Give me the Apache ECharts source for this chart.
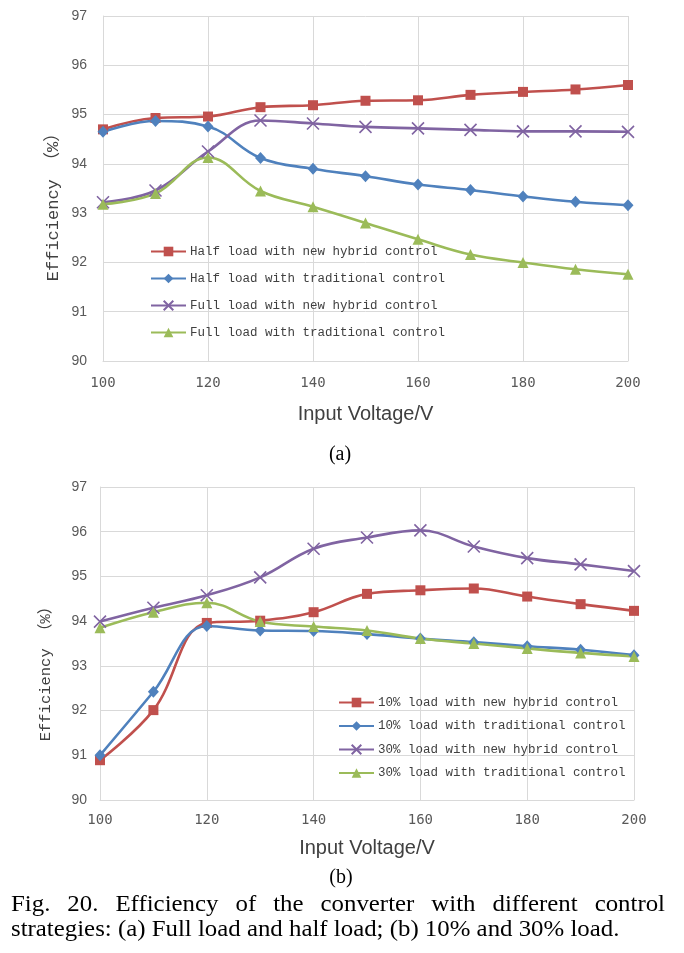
<!DOCTYPE html>
<html>
<head>
<meta charset="utf-8">
<script src="https://cdn.jsdelivr.net/npm/echarts@6/dist/echarts.min.js"></script>
<style>
html,body{margin:0;padding:0;background:#fff;}
#chart{width:684px;height:953px;}
</style>
</head>
<body>
<div id="chart"></div>
<script>
// ---- Data ----
const voltage = [100, 110, 120, 130, 140, 150, 160, 170, 180, 190, 200];

// (a) Full load and half load
const halfNew   = [94.70, 94.93, 94.96, 95.15, 95.19, 95.28, 95.29, 95.40, 95.46, 95.51, 95.60];
const halfTrad  = [94.65, 94.87, 94.76, 94.12, 93.90, 93.75, 93.58, 93.47, 93.34, 93.23, 93.16];
const fullNew   = [93.22, 93.46, 94.25, 94.88, 94.82, 94.75, 94.72, 94.69, 94.66, 94.66, 94.65];
const fullTrad  = [93.18, 93.40, 94.13, 93.45, 93.13, 92.80, 92.47, 92.16, 92.00, 91.86, 91.76];

// (b) 10% and 30% load
const p10New  = [90.89, 92.01, 93.96, 94.01, 94.20, 94.61, 94.69, 94.73, 94.55, 94.38, 94.23];
const p10Trad = [91.00, 92.42, 93.89, 93.79, 93.78, 93.71, 93.61, 93.53, 93.44, 93.36, 93.24];
const p30New  = [93.99, 94.30, 94.58, 94.98, 95.62, 95.87, 96.03, 95.67, 95.41, 95.27, 95.12];
const p30Trad = [93.85, 94.20, 94.41, 93.99, 93.88, 93.79, 93.61, 93.50, 93.39, 93.29, 93.21];

const namesA = ['Half load with new hybrid control', 'Half load with traditional control',
                'Full load with new hybrid control', 'Full load with traditional control'];
const namesB = ['10% load with new hybrid control', '10% load with traditional control',
                '30% load with new hybrid control', '30% load with traditional control'];
const xTicks = [100, 120, 140, 160, 180, 200];
const yTicks = [90, 91, 92, 93, 94, 95, 96, 97];
const xTitle = 'Input Voltage/V';
const yTitle = 'Efficiency （%）';
const captionLine1 = ['Fig.', '20.', 'Efficiency', 'of', 'the', 'converter', 'with', 'different', 'control'];
const captionLine2 = 'strategies: (a) Full load and half load; (b) 10% and 30% load.';

// ---- Styles ----
const RED = '#C0504D', BLUE = '#4F81BD', PURPLE = '#8064A2', GREEN = '#9BBB59';
const GRID = '#D9D9D9';
const XPATH = 'path://M0,0L10,10M10,0L0,10';
const styles = [
  {color: RED, symbol: 'rect', size: 10},
  {color: BLUE, symbol: 'diamond', size: [11, 12]},
  {color: PURPLE, symbol: XPATH, size: 12},
  {color: GREEN, symbol: 'triangle', size: 11}
];

function mkSeries(name, arr, st, idx) {
  return {
    name: name, type: 'line', xAxisIndex: idx, yAxisIndex: idx,
    data: voltage.map((v, i) => [v, arr[i]]),
    smooth: 0.4,
    symbol: st.symbol, symbolSize: st.size, showSymbol: true,
    lineStyle: {color: st.color, width: 2.6},
    itemStyle: {color: st.color, borderColor: st.color, borderWidth: st.symbol === XPATH ? 1.6 : 0},
    emphasis: {disabled: true},
    animation: false
  };
}

function mkX(idx, gap, margin) {
  return {
    type: 'value', gridIndex: idx, min: xTicks[0], max: xTicks[xTicks.length - 1],
    interval: xTicks[1] - xTicks[0],
    name: xTitle, nameLocation: 'middle', nameGap: gap,
    nameTextStyle: {fontFamily: 'Liberation Sans', fontSize: 20, color: '#404040'},
    axisLine: {show: true, lineStyle: {color: GRID, width: 1}},
    axisTick: {show: false},
    axisLabel: {margin: margin, fontFamily: 'DejaVu Sans Mono', fontSize: 14, color: '#595959'},
    splitLine: {show: true, lineStyle: {color: GRID, width: 1}}
  };
}
function mkY(idx, margin) {
  return {
    type: 'value', gridIndex: idx, min: yTicks[0], max: yTicks[yTicks.length - 1], interval: 1,
    axisLine: {show: true, lineStyle: {color: GRID, width: 1}},
    axisTick: {show: false},
    axisLabel: {margin: margin, fontFamily: 'Liberation Sans', fontSize: 14, color: '#595959'},
    splitLine: {show: true, lineStyle: {color: GRID, width: 1}}
  };
}
function mkLegend(names, left, top, gap) {
  return {
    data: names, orient: 'vertical', left: left, top: top,
    itemWidth: 35, itemHeight: 12, itemGap: gap, selectedMode: false,
    textStyle: {fontFamily: 'Liberation Mono', fontSize: 12.5, color: '#404040', lineHeight: 12, padding: [0, 0, 0, -1]}
  };
}

const serif = 'Liberation Serif';
const capSize = 23, capScale = 1.08;
const graphics = [
  {type: 'text', x: 53, y: 203, rotation: Math.PI / 2,
   style: {text: yTitle, fontFamily: 'Liberation Mono, Noto Sans CJK SC', fontSize: 17, fill: '#404040', align: 'center', verticalAlign: 'middle'}},
  {type: 'text', x: 46, y: 670, rotation: Math.PI / 2,
   style: {text: yTitle, fontFamily: 'Liberation Mono, Noto Sans CJK SC', fontSize: 15.5, fill: '#404040', align: 'center', verticalAlign: 'middle'}},
  {type: 'text', x: 340, y: 455, style: {text: '(a)', fontFamily: serif, fontSize: 20, fill: '#000', align: 'center', verticalAlign: 'middle'}},
  {type: 'text', x: 341, y: 878, style: {text: '(b)', fontFamily: serif, fontSize: 20, fill: '#000', align: 'center', verticalAlign: 'middle'}},
  {type: 'text', x: 11, y: 930, scaleX: capScale, style: {text: captionLine2, fontFamily: serif, fontSize: capSize, fill: '#000', align: 'left', verticalAlign: 'middle'}}
];
// justify first caption line between x=11 and x=665
const ctx = document.createElement('canvas').getContext('2d');
ctx.font = capSize + 'px "' + serif + '"';
const widths = captionLine1.map(w => ctx.measureText(w).width * capScale);
const total = widths.reduce((a, b) => a + b, 0);
const gapW = (665 - 11 - total) / (captionLine1.length - 1);
let cx = 11;
captionLine1.forEach((w, i) => {
  graphics.push({type: 'text', x: cx, y: 905, scaleX: capScale,
    style: {text: w, fontFamily: serif, fontSize: capSize, fill: '#000', align: 'left', verticalAlign: 'middle'}});
  cx += widths[i] + gapW;
});

const chart = echarts.init(document.getElementById('chart'), null, {renderer: 'canvas'});
chart.setOption({
  backgroundColor: '#fff',
  animation: false,
  grid: [
    {left: 103, right: 56, top: 16, height: 345},
    {left: 100, right: 50, top: 487, height: 313}
  ],
  xAxis: [mkX(0, 43, 15), mkX(1, 38, 13)],
  yAxis: [mkY(0, 16), mkY(1, 13)],
  legend: [mkLegend(namesA, 145, 240, 14), mkLegend(namesB, 333, 691, 10.5)],
  series: [
    mkSeries(namesA[0], halfNew, styles[0], 0),
    mkSeries(namesA[1], halfTrad, styles[1], 0),
    mkSeries(namesA[2], fullNew, styles[2], 0),
    mkSeries(namesA[3], fullTrad, styles[3], 0),
    mkSeries(namesB[0], p10New, styles[0], 1),
    mkSeries(namesB[1], p10Trad, styles[1], 1),
    mkSeries(namesB[2], p30New, styles[2], 1),
    mkSeries(namesB[3], p30Trad, styles[3], 1)
  ],
  graphic: graphics
});
</script>
</body>
</html>
